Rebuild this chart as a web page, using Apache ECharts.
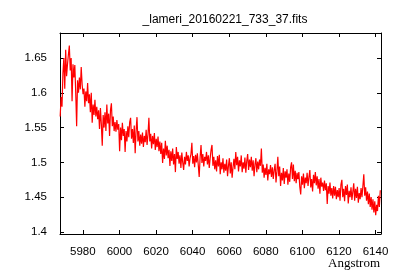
<!DOCTYPE html>
<html>
<head>
<meta charset="utf-8">
<script src="https://cdn.jsdelivr.net/npm/echarts@6/dist/echarts.min.js"></script>
<style>
  html, body { margin: 0; padding: 0; background: #fff; }
  #chart { width: 400px; height: 280px; }
</style>
</head>
<body>
<div id="chart"></div>
<script>
const chartTitle = '_lameri_20160221_733_37.fits'
const xName = 'Angstrom'

// wavelength grid of the spectrum (Angstrom)
const waveStart = 5967.6
const waveStep = 0.5
const xRange = [5967.5, 6143]
const yRange = [1.397, 1.686]

// flux, one value per 0.5 A
const flux = [
  1.566, 1.594, 1.580, 1.628, 1.650, 1.606, 1.662, 1.624, 1.641, 1.655,
  1.668, 1.632, 1.650, 1.588, 1.641, 1.622, 1.640, 1.600, 1.552, 1.618,
  1.600, 1.622, 1.605, 1.637, 1.612, 1.598, 1.606, 1.580, 1.602, 1.588,
  1.614, 1.585, 1.598, 1.572, 1.600, 1.557, 1.583, 1.568, 1.590, 1.566,
  1.580, 1.562, 1.575, 1.548, 1.578, 1.555, 1.524, 1.568, 1.550, 1.572,
  1.545, 1.583, 1.556, 1.570, 1.538, 1.575, 1.585, 1.552, 1.566, 1.545,
  1.558, 1.544, 1.561, 1.547, 1.555, 1.516, 1.550, 1.532, 1.557, 1.538,
  1.548, 1.515, 1.545, 1.530, 1.552, 1.536, 1.558, 1.564, 1.534, 1.548,
  1.528, 1.553, 1.513, 1.546, 1.565, 1.530, 1.545, 1.524, 1.540, 1.527,
  1.543, 1.522, 1.538, 1.529, 1.547, 1.525, 1.540, 1.564, 1.530, 1.541,
  1.520, 1.538, 1.526, 1.542, 1.518, 1.534, 1.522, 1.537, 1.516, 1.530,
  1.512, 1.528, 1.499, 1.520, 1.505, 1.531, 1.510, 1.524, 1.506, 1.518,
  1.495, 1.516, 1.502, 1.520, 1.497, 1.512, 1.486, 1.522, 1.505, 1.515,
  1.498, 1.510, 1.492, 1.514, 1.500, 1.489, 1.508, 1.497, 1.515, 1.502,
  1.510, 1.494, 1.506, 1.512, 1.528, 1.498, 1.509, 1.493, 1.511, 1.500,
  1.513, 1.496, 1.479, 1.507, 1.525, 1.499, 1.512, 1.494, 1.508, 1.502,
  1.515, 1.497, 1.510, 1.492, 1.506, 1.518, 1.525, 1.495, 1.508, 1.490,
  1.503, 1.487, 1.509, 1.494, 1.511, 1.483, 1.500, 1.490, 1.506, 1.485,
  1.498, 1.488, 1.504, 1.480, 1.495, 1.506, 1.484, 1.500, 1.478, 1.493,
  1.505, 1.490, 1.515, 1.496, 1.508, 1.487, 1.503, 1.494, 1.510, 1.486,
  1.500, 1.491, 1.507, 1.485, 1.502, 1.512, 1.489, 1.504, 1.493, 1.508,
  1.488, 1.503, 1.480, 1.497, 1.506, 1.486, 1.501, 1.490, 1.504, 1.495,
  1.520, 1.485, 1.497, 1.478, 1.492, 1.482, 1.498, 1.474, 1.490, 1.483,
  1.496, 1.479, 1.493, 1.476, 1.489, 1.498, 1.471, 1.487, 1.508, 1.480,
  1.494, 1.466, 1.485, 1.474, 1.492, 1.469, 1.487, 1.478, 1.490, 1.468,
  1.484, 1.472, 1.493, 1.500, 1.476, 1.497, 1.473, 1.488, 1.470, 1.485,
  1.476, 1.486, 1.465, 1.454, 1.480, 1.468, 1.484, 1.463, 1.478, 1.470,
  1.485, 1.466, 1.479, 1.489, 1.464, 1.476, 1.458, 1.482, 1.470, 1.486,
  1.467, 1.480, 1.462, 1.476, 1.455, 1.478, 1.465, 1.471, 1.459, 1.474,
  1.460, 1.470, 1.440, 1.466, 1.455, 1.471, 1.452, 1.463, 1.448, 1.466,
  1.452, 1.465, 1.447, 1.460, 1.450, 1.463, 1.445, 1.468, 1.475, 1.450,
  1.462, 1.444, 1.466, 1.453, 1.468, 1.441, 1.459, 1.450, 1.464, 1.446,
  1.458, 1.470, 1.445, 1.462, 1.449, 1.465, 1.442, 1.456, 1.447, 1.463,
  1.450, 1.466, 1.483, 1.452, 1.464, 1.445, 1.458, 1.440, 1.455, 1.436,
  1.450, 1.432, 1.447, 1.428, 1.444, 1.424, 1.439, 1.430, 1.452, 1.436, 1.460
]

const font = 'Liberation Sans, Arial, sans-serif'
const onStep = (v, step) => Math.abs(v / step - Math.round(v / step)) < 1e-6

const chart = echarts.init(document.getElementById('chart'), null, { renderer: 'canvas' })

const axisBase = {
  type: 'value',
  scale: true,
  axisLine: { show: true, onZero: false, lineStyle: { color: '#000', width: 1 } },
  axisTick: { show: true, inside: true, length: 4, lineStyle: { color: '#000' } },
  splitLine: { show: false }
}

chart.setOption({
  animation: false,
  backgroundColor: '#fff',
  title: [{
    text: chartTitle,
    left: 220,
    top: 9,
    textAlign: 'center',
    textStyle: { fontFamily: font, fontSize: 12, fontWeight: 'normal', color: '#000' }
  }, {
    text: xName,
    right: 15,
    top: 252,
    textStyle: { fontFamily: 'Liberation Serif, serif', fontSize: 13, fontWeight: 'normal', color: '#000' }
  }],
  grid: { left: 60, right: 19, top: 33, bottom: 46 },
  xAxis: [{
    ...axisBase,
    position: 'bottom',
    min: xRange[0],
    max: xRange[1],
    splitNumber: 9,
    minInterval: 20,
    maxInterval: 20,
    axisLabel: {
      margin: 12,
      color: '#000',
      fontFamily: font,
      fontSize: 11.5,
      showMinLabel: false,
      showMaxLabel: false,
      formatter: v => (onStep(v, 20) ? String(v) : '')
    }
  }, {
    ...axisBase,
    position: 'top',
    min: xRange[0],
    max: xRange[1],
    splitNumber: 9,
    minInterval: 20,
    maxInterval: 20,
    axisLabel: { show: false }
  }],
  yAxis: [{
    ...axisBase,
    position: 'left',
    min: yRange[0],
    max: yRange[1],
    splitNumber: 5,
    minInterval: 0.05,
    maxInterval: 0.05,
    axisLabel: {
      margin: 13,
      color: '#000',
      fontFamily: font,
      fontSize: 11.5,
      showMinLabel: false,
      showMaxLabel: false,
      formatter: v => (onStep(v, 0.05) ? String(+v.toFixed(2)) : '')
    }
  }, {
    ...axisBase,
    position: 'right',
    min: yRange[0],
    max: yRange[1],
    splitNumber: 5,
    minInterval: 0.05,
    maxInterval: 0.05,
    axisLabel: { show: false }
  }],
  series: [{
    type: 'line',
    xAxisIndex: 0,
    yAxisIndex: 0,
    showSymbol: false,
    symbol: 'none',
    lineStyle: { color: '#ff0000', width: 1.2 },
    data: flux.map((f, i) => [+(waveStart + i * waveStep).toFixed(1), f])
  }]
})
</script>
</body>
</html>
